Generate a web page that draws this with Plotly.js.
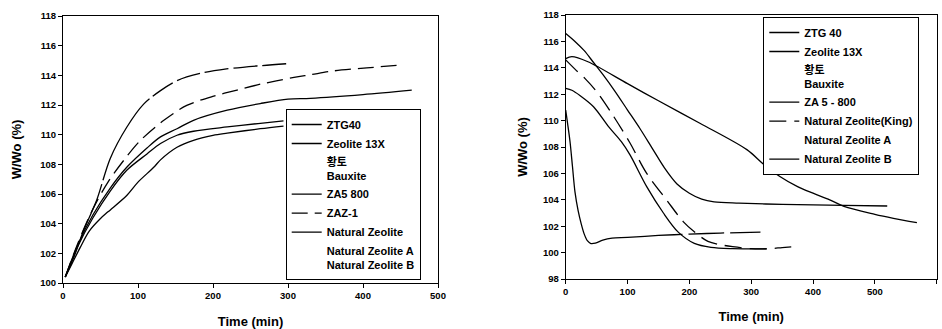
<!DOCTYPE html>
<html>
<head>
<meta charset="utf-8">
<script src="https://cdn.plot.ly/plotly-3.0.1.min.js"></script>
<style>html,body{margin:0;padding:0;background:#fff;}#chart{width:942px;height:329px;}</style>
</head>
<body>
<div id="chart"></div>
<script>
// ---------- Left panel (adsorption) ----------
const leftTimeZTG40 = [3, 20, 40, 63, 85, 112, 130, 152, 174, 219, 263, 300, 330, 400, 465];
const leftWZTG40    = [100.4, 102.6, 104.6, 106.4, 107.8, 109.1, 109.85, 110.4, 110.97, 111.65, 112.1, 112.4, 112.45, 112.7, 113.0];

const leftTime13X = [3, 20, 40, 63, 85, 112, 130, 152, 174, 219, 260, 294];
const leftW13X    = [100.4, 102.5, 104.4, 106.2, 107.6, 108.7, 109.4, 109.96, 110.23, 110.52, 110.75, 110.93];

const leftTimeZA5 = [3, 12, 23, 35, 50, 60, 85, 100, 121, 130, 152, 174, 200, 219, 263, 294];
const leftWZA5    = [100.4, 101.3, 102.4, 103.5, 104.35, 104.8, 105.9, 106.8, 107.8, 108.3, 109.15, 109.62, 109.95, 110.1, 110.4, 110.58];

const leftTimeZAZ1 = [3, 20, 40, 60, 81, 103, 134, 165, 201, 232, 263, 308, 330, 361, 405, 450];
const leftWZAZ1    = [100.4, 102.7, 105.0, 106.8, 108.27, 109.6, 110.95, 111.97, 112.6, 113.0, 113.4, 113.86, 114.04, 114.3, 114.5, 114.7];

const leftTimeNat = [3, 15, 27.5, 45, 63, 85, 107.5, 130, 152, 183, 218, 263, 303];
const leftWNat    = [100.4, 101.8, 103.55, 105.6, 108.4, 110.5, 112.06, 112.97, 113.64, 114.13, 114.43, 114.65, 114.8];

// series listed in the legend without a plotted curve
const leftTimeNone = [null];
const leftWNone    = [null];

const leftNames = ['ZTG40', 'Zeolite 13X', '황토', 'Bauxite', 'ZA5 800', 'ZAZ-1', 'Natural Zeolite', 'Natural Zeolite A', 'Natural Zeolite B'];

// ---------- Right panel (desorption) ----------
const rightTimeZTG40 = [0, 15, 30, 45, 60, 80, 100, 120, 140, 160, 180, 200, 220, 240, 280, 350, 450, 520];
const rightWZTG40    = [116.6, 116.0, 115.3, 114.4, 113.5, 112.2, 110.8, 109.4, 107.9, 106.4, 105.2, 104.5, 104.05, 103.85, 103.75, 103.65, 103.58, 103.53];

const rightTime13X = [0, 10, 36, 100, 150, 217, 293, 320, 347, 375, 400, 427, 450, 500, 530, 568];
const rightW13X    = [114.7, 114.85, 114.46, 112.8, 111.5, 109.8, 107.8, 106.7, 105.75, 105.0, 104.5, 104.0, 103.5, 102.9, 102.6, 102.27];

const rightTimeZA5 = [0, 10, 23, 45, 70, 90, 104, 131, 158, 182, 208, 235, 270, 325];
const rightWZA5    = [112.45, 112.3, 111.9, 111.05, 109.5, 108.4, 107.4, 105.0, 103.0, 101.55, 100.7, 100.4, 100.3, 100.28];

const rightTimeKing = [0, 15, 31, 50, 75, 104, 131, 163, 190, 210, 230, 250, 270, 300, 330, 350, 370];
const rightWKing    = [114.6, 113.9, 113.2, 112.2, 110.5, 108.3, 106.0, 104.0, 102.35, 101.5, 100.85, 100.6, 100.45, 100.3, 100.3, 100.38, 100.45];

const rightTimeNatB = [0, 3, 7, 11, 15, 20, 25, 30, 35, 40, 48, 60, 75, 100, 150, 200, 250, 315];
const rightWNatB    = [110.8, 109.8, 108.4, 106.5, 104.6, 103.2, 102.2, 101.4, 100.9, 100.7, 100.72, 100.95, 101.1, 101.15, 101.3, 101.4, 101.48, 101.55];

const rightTimeNone = [null];
const rightWNone    = [null];

const rightNames = ['ZTG 40', 'Zeolite 13X', '황토', 'Bauxite', 'ZA 5 - 800', 'Natural Zeolite(King)', 'Natural Zeolite A', 'Natural Zeolite B'];

const xTicksLeft = [0, 100, 200, 300, 400, 500];
const xTicksRight = [0, 100, 200, 300, 400, 500, 600];
const yTicksLeft = [100, 102, 104, 106, 108, 110, 112, 114, 116, 118];
const yTicksRight = [98, 100, 102, 104, 106, 108, 110, 112, 114, 116, 118];

// ---------- Build ----------
const FONT = 'Liberation Sans, Arial, "Noto Sans CJK KR", sans-serif';
const W = 942, H = 329;
const LW = 1.3;

function line(x, y, name, dash, legend, xa, ya) {
  return {x: x, y: y, name: name, type: 'scatter', mode: 'lines',
    line: {color: '#000', width: LW, dash: dash, shape: 'spline', smoothing: 0.9},
    legend: legend, xaxis: xa, yaxis: ya, hoverinfo: 'skip'};
}
function blank(x, y, name, legend, xa, ya) {
  return {x: x, y: y, name: name, type: 'scatter', mode: 'lines',
    line: {color: 'rgba(0,0,0,0)', width: LW}, legend: legend, xaxis: xa, yaxis: ya,
    showlegend: true, hoverinfo: 'skip'};
}

const traces = [
  line(leftTimeZTG40, leftWZTG40, leftNames[0], 'solid', 'legend', 'x', 'y'),
  line(leftTime13X, leftW13X, leftNames[1], 'solid', 'legend', 'x', 'y'),
  blank(leftTimeNone, leftWNone, leftNames[2] + '<br>' + leftNames[3], 'legend', 'x', 'y'),
  line(leftTimeZA5, leftWZA5, leftNames[4], 'solid', 'legend', 'x', 'y'),
  line(leftTimeZAZ1, leftWZAZ1, leftNames[5], '16px,7px', 'legend', 'x', 'y'),
  line(leftTimeNat, leftWNat, leftNames[6], '100px,4px,95px,4px,24px,5px,24px,5px,24px,5px,24px,5px,24px,5px,24px,5px', 'legend', 'x', 'y'),
  blank(leftTimeNone, leftWNone, leftNames[7] + '<br>' + leftNames[8], 'legend', 'x', 'y'),

  line(rightTimeZTG40, rightWZTG40, rightNames[0], 'solid', 'legend2', 'x2', 'y2'),
  line(rightTime13X, rightW13X, rightNames[1], 'solid', 'legend2', 'x2', 'y2'),
  blank(rightTimeNone, rightWNone, rightNames[2] + '<br>' + rightNames[3], 'legend2', 'x2', 'y2'),
  line(rightTimeZA5, rightWZA5, rightNames[4], 'solid', 'legend2', 'x2', 'y2'),
  line(rightTimeKing, rightWKing, rightNames[5], '17px,8px', 'legend2', 'x2', 'y2'),
  blank(rightTimeNone, rightWNone, rightNames[6], 'legend2', 'x2', 'y2'),
  line(rightTimeNatB, rightWNatB, rightNames[7], '230px,6px,36px,6px,34px,6px', 'legend2', 'x2', 'y2')
];

const tickFont = {family: FONT, size: 9.5, color: '#000', weight: 'bold'};
const titleFont = {family: FONT, size: 13, color: '#000', weight: 'bold'};
const axBase = {showline: true, mirror: true, linecolor: '#000', linewidth: 1, ticks: 'outside',
  ticklen: 4, tickwidth: 1, tickcolor: '#000', showgrid: false, zeroline: false,
  tickfont: tickFont, fixedrange: true};

const layout = {
  width: W, height: H,
  margin: {l: 0, r: 0, t: 0, b: 0},
  paper_bgcolor: '#fff', plot_bgcolor: '#fff',
  showlegend: true,
  xaxis: Object.assign({}, axBase, {domain: [63 / W, 438 / W], range: [0, 500],
    tickvals: xTicksLeft, anchor: 'y',
    title: {text: 'Time (min)', font: titleFont, standoff: 16}}),
  yaxis: Object.assign({}, axBase, {domain: [1 - 283 / H, 1 - 16 / H], range: [100, 118],
    tickvals: yTicksLeft, anchor: 'x',
    title: {text: 'W/Wo (%)', font: titleFont, standoff: 15}}),
  xaxis2: Object.assign({}, axBase, {domain: [565.7 / W, 936.7 / W], range: [0, 600],
    tickvals: xTicksRight, anchor: 'y2',
    title: {text: 'Time (min)', font: titleFont, standoff: 15}}),
  yaxis2: Object.assign({}, axBase, {domain: [1 - 279 / H, 1 - 15 / H], range: [98, 118],
    tickvals: yTicksRight, anchor: 'x2',
    title: {text: 'W/Wo (%)', font: titleFont, standoff: 12}}),
  legend: {x: 285.7 / W, y: 1 - 109 / H, xanchor: 'left', yanchor: 'top',
    bgcolor: '#fff', bordercolor: '#000', borderwidth: 1, itemwidth: 30,
    font: {family: FONT, size: 11, color: '#000', weight: 'bold'}, tracegroupgap: 0},
  legend2: {x: 763.3 / W, y: 1 - 17 / H, xanchor: 'left', yanchor: 'top',
    bgcolor: '#fff', bordercolor: '#000', borderwidth: 1, itemwidth: 30,
    font: {family: FONT, size: 11, color: '#000', weight: 'bold'}, tracegroupgap: 0}
};

Plotly.newPlot('chart', traces, layout, {displayModeBar: false, staticPlot: true});
</script>
</body>
</html>
